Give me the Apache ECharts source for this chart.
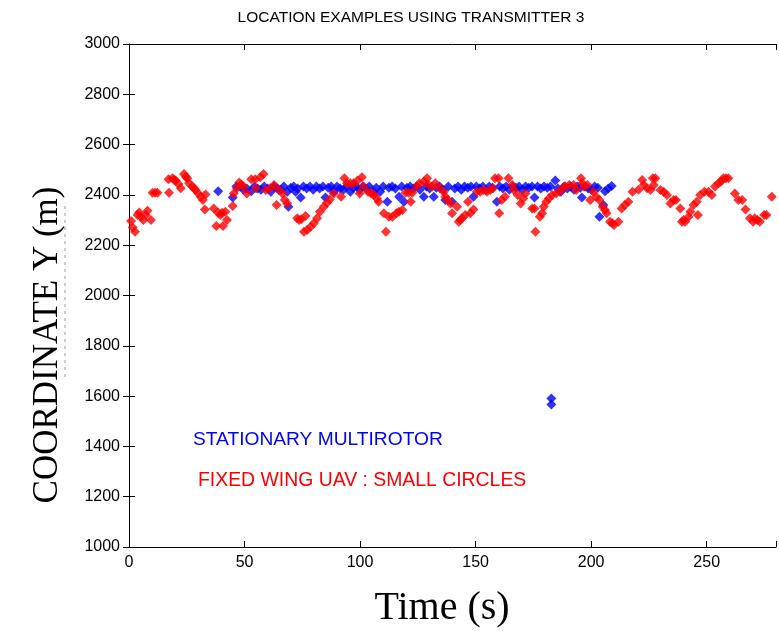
<!DOCTYPE html>
<html>
<head>
<meta charset="utf-8">
<script src="https://cdn.jsdelivr.net/npm/echarts@6/dist/echarts.min.js"></script>
<style>
  html, body { margin: 0; padding: 0; background: #fff; }
  #chart { width: 779px; height: 631px; }
</style>
</head>
<body>
<div id="chart"></div>
<script>
// Time axis and coordinate axis limits / ticks
const timeTicks = [0, 50, 100, 150, 200, 250];
const timeMax = 280;
const coordTicks = [1000, 1200, 1400, 1600, 1800, 2000, 2200, 2400, 2600, 2800, 3000];

// Stationary multirotor: [time (s), coordinate Y (m)]
const multirotor = [
  [38.6,2415],[44.9,2390],[46.5,2433],[48.2,2433],[49.6,2420],[51.0,2425],[52.9,2415],[54.3,2433],
  [55.7,2425],[57.1,2420],[58.5,2433],[60.0,2425],[61.4,2413],[62.8,2433],[64.2,2425],[65.6,2420],
  [67.0,2433],[68.5,2413],[69.0,2353],[70.0,2428],[71.3,2433],[72.1,2413],[73.0,2425],[74.3,2390],
  [75.5,2433],[76.9,2425],[78.3,2433],[79.7,2420],[81.1,2433],[82.5,2425],[83.9,2433],[85.0,2390],
  [86.2,2428],[87.5,2433],[88.6,2413],[90.0,2433],[91.4,2425],[92.8,2420],[94.2,2433],[95.8,2413],
  [97.0,2428],[98.4,2433],[99.8,2420],[101.2,2433],[102.6,2425],[104.0,2433],[105.8,2413],[107.0,2428],
  [108.7,2413],[110.0,2433],[111.8,2373],[112.5,2428],[113.9,2433],[115.3,2425],[116.9,2393],[118.0,2433],
  [119.0,2373],[120.3,2428],[121.7,2433],[123.1,2425],[124.5,2433],[125.9,2420],[127.6,2393],[128.7,2433],
  [130.1,2425],[131.9,2393],[133.0,2428],[134.4,2433],[135.8,2420],[136.9,2380],[138.2,2433],[139.8,2373],
  [141.0,2425],[142.4,2433],[143.8,2420],[145.2,2433],[146.6,2428],[148.0,2433],[149.1,2393],[150.3,2433],
  [151.7,2425],[153.1,2433],[154.5,2420],[155.9,2433],[157.3,2428],[159.2,2373],[160.4,2433],[161.8,2425],
  [163.2,2433],[164.6,2420],[166.0,2433],[167.4,2428],[168.8,2433],[170.2,2420],[171.6,2433],[173.0,2428],
  [174.4,2433],[175.5,2390],[176.8,2433],[178.2,2425],[179.6,2433],[181.0,2428],[182.4,2433],[182.8,1590],
  [182.8,1567],[184.5,2457],[185.6,2425],[186.9,2413],[188.3,2433],[189.7,2425],[191.1,2433],[192.5,2420],
  [193.9,2433],[195.3,2428],[196.0,2390],[197.3,2433],[198.7,2425],[200.1,2420],[201.5,2433],[202.9,2428],
  [203.6,2313],[205.3,2360],[206.0,2415],[207.4,2425],[208.9,2435]
];

// Fixed wing UAV flying small circles: [time (s), coordinate Y (m)]
const fixedWing = [
  [0.9,2296],[1.6,2270],[2.6,2253],[3.7,2320],[4.4,2330],[5.2,2313],[6.2,2300],[7.2,2320],
  [8.0,2337],[9.5,2300],[10.2,2409],[11.3,2409],[12.3,2409],[17.1,2462],[17.3,2409],[18.8,2466],
  [19.5,2460],[20.2,2457],[21.4,2443],[22.4,2426],[23.8,2483],[24.6,2472],[25.2,2466],[26.0,2446],
  [27.4,2433],[28.1,2426],[28.8,2419],[30.0,2406],[31.0,2393],[32.0,2380],[32.8,2342],[33.1,2402],
  [36.7,2346],[37.8,2276],[38.6,2329],[39.5,2320],[40.3,2329],[40.7,2276],[41.7,2333],[42.4,2300],
  [44.9,2356],[45.3,2406],[46.7,2426],[47.7,2449],[48.6,2440],[49.6,2433],[51.0,2406],[52.9,2462],
  [54.6,2462],[54.9,2426],[56.8,2470],[58.2,2483],[59.2,2419],[61.1,2426],[62.8,2439],[63.9,2360],
  [65.0,2419],[66.4,2406],[67.4,2380],[68.5,2366],[72.8,2307],[73.6,2300],[74.6,2303],[75.7,2253],
  [76.4,2316],[77.1,2260],[78.6,2273],[80.0,2287],[81.4,2307],[82.6,2333],[84.3,2353],[85.7,2369],
  [86.9,2382],[88.6,2406],[91.8,2393],[93.2,2466],[94.3,2446],[95.8,2446],[97.2,2446],[98.9,2457],
  [99.8,2406],[100.8,2470],[101.5,2433],[103.5,2413],[104.8,2406],[106.0,2400],[107.3,2386],[108.0,2373],
  [110.3,2327],[111.2,2253],[112.5,2313],[114.0,2313],[115.7,2327],[116.8,2333],[118.3,2340],[119.7,2409],
  [121.0,2409],[121.9,2373],[122.6,2409],[124.5,2433],[125.7,2446],[127.6,2453],[129.0,2466],[129.8,2439],
  [131.2,2433],[132.6,2446],[134.5,2426],[136.2,2413],[136.9,2393],[138.0,2380],[139.1,2366],[139.8,2327],
  [142.0,2353],[142.7,2293],[143.4,2300],[144.1,2307],[145.5,2320],[146.7,2373],[147.7,2327],[149.1,2342],
  [150.5,2413],[152.0,2413],[153.4,2419],[154.9,2413],[156.3,2419],[157.5,2426],[158.4,2466],[159.9,2466],
  [160.2,2327],[161.3,2380],[162.7,2393],[164.2,2466],[165.9,2439],[166.6,2419],[168.2,2400],[169.5,2366],
  [170.6,2386],[171.6,2406],[174.5,2346],[175.5,2346],[175.9,2253],[177.8,2313],[178.8,2327],[179.5,2353],
  [180.6,2373],[181.7,2386],[183.1,2400],[184.8,2406],[186.4,2413],[187.6,2426],[188.8,2433],[190.5,2439],
  [192.4,2439],[193.5,2419],[195.6,2466],[196.2,2446],[197.0,2433],[198.4,2439],[199.6,2380],[201.0,2413],
  [202.2,2393],[203.6,2380],[205.0,2353],[206.0,2340],[206.7,2327],[208.2,2293],[209.2,2287],[209.9,2280],
  [211.8,2293],[213.2,2346],[214.6,2360],[216.1,2373],[217.9,2413],[220.5,2420],[222.1,2459],[222.8,2439],
  [224.2,2426],[225.7,2419],[226.7,2466],[227.1,2439],[227.8,2466],[230.0,2419],[231.4,2413],[232.8,2400],
  [234.3,2366],[235.7,2380],[236.7,2380],[238.6,2346],[239.3,2293],[240.0,2300],[240.7,2293],[242.2,2313],
  [242.9,2333],[244.3,2360],[245.7,2373],[246.2,2320],[247.2,2400],[249.0,2413],[250.8,2413],[252.2,2400],
  [253.6,2433],[255.1,2446],[256.2,2453],[257.2,2466],[258.3,2466],[259.4,2466],[262.2,2406],[263.7,2380],
  [265.4,2380],[266.8,2342],[268.7,2307],[270.1,2293],[270.8,2307],[272.0,2300],[273.0,2293],[274.9,2320],
  [275.9,2320],[278.2,2393]
];

const seriesNames = ['STATIONARY MULTIROTOR', 'FIXED WING UAV : SMALL CIRCLES'];
const titleText = 'LOCATION EXAMPLES USING TRANSMITTER 3';
const xTitle = 'Time (s)';
const yTitle = 'COORDINATE Y (m)';

const sans = "'Liberation Sans', Arial, sans-serif";
const serif = "'Liberation Serif', 'Times New Roman', serif";
const ink = '#000';

const chart = echarts.init(document.getElementById('chart'), null, { renderer: 'canvas' });

function tickLabel(list) {
  return v => (list.indexOf(v) >= 0 ? String(v) : '');
}

const tickStyle = { show: true, inside: true, length: 6, lineStyle: { color: ink, width: 1 } };
const lineStyle = { show: true, lineStyle: { color: ink, width: 1 } };

chart.setOption({
  animation: false,
  backgroundColor: '#fff',
  grid: { left: 129, right: -2, top: 44, bottom: 84, containLabel: false },
  xAxis: [
    {
      type: 'value', min: timeTicks[0], max: timeMax, interval: 50, position: 'bottom',
      axisLine: lineStyle, axisTick: tickStyle, splitLine: { show: false },
      axisLabel: { color: ink, fontSize: 16, fontFamily: sans, margin: 8, formatter: tickLabel(timeTicks) }
    },
    {
      type: 'value', min: timeTicks[0], max: timeMax, interval: 50, position: 'top',
      axisLine: lineStyle, axisTick: tickStyle, splitLine: { show: false },
      axisLabel: { show: false }
    }
  ],
  yAxis: [
    {
      type: 'value', min: coordTicks[0], max: coordTicks[coordTicks.length - 1], interval: 200, position: 'left',
      axisLine: lineStyle, axisTick: tickStyle, splitLine: { show: false },
      axisLabel: { color: ink, fontSize: 16, fontFamily: sans, margin: 9, formatter: tickLabel(coordTicks) }
    },
    {
      type: 'value', min: coordTicks[0], max: coordTicks[coordTicks.length - 1], interval: 200, position: 'right',
      axisLine: { show: false }, axisTick: tickStyle, splitLine: { show: false },
      axisLabel: { show: false }
    }
  ],
  series: [
    {
      name: seriesNames[0], type: 'scatter', xAxisIndex: 0, yAxisIndex: 0,
      symbol: 'diamond', symbolSize: [10, 10],
      itemStyle: { color: '#0000ff' },
      data: multirotor, z: 2
    },
    {
      name: seriesNames[1], type: 'scatter', xAxisIndex: 0, yAxisIndex: 0,
      symbol: 'diamond', symbolSize: [10, 10],
      itemStyle: { color: '#ff0000' },
      data: fixedWing, z: 3
    }
  ],
  graphic: [
    {
      type: 'text', x: 411, y: 18,
      style: { text: titleText, textAlign: 'center', textVerticalAlign: 'middle',
               fill: ink, font: "15.5px " + sans }
    },
    {
      type: 'text', x: 442, y: 608,
      style: { text: xTitle, textAlign: 'center', textVerticalAlign: 'middle',
               fill: ink, font: "40px " + serif }
    },
    {
      type: 'text', x: 48, y: 345, rotation: Math.PI / 2,
      style: { text: yTitle, textAlign: 'center', textVerticalAlign: 'middle',
               fill: ink, font: "35px " + serif }
    },
    {
      type: 'text', x: 193, y: 440,
      style: { text: seriesNames[0], textAlign: 'left', textVerticalAlign: 'middle',
               fill: '#0000ff', font: "19.2px " + sans }
    },
    {
      type: 'text', x: 198, y: 481,
      style: { text: seriesNames[1], textAlign: 'left', textVerticalAlign: 'middle',
               fill: '#ff0000', font: "19.4px " + sans }
    },
    {
      // faint dashed guide beside the vertical axis title
      type: 'line', shape: { x1: 65, y1: 206, x2: 65, y2: 380 },
      style: { stroke: '#9a9a9a', lineWidth: 1, lineDash: [3, 4] }
    }
  ]
});
</script>
</body>
</html>
